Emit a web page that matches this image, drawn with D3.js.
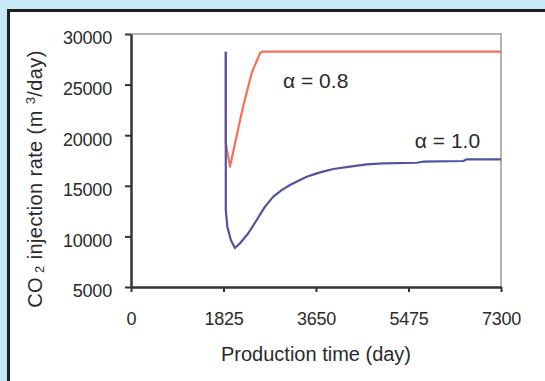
<!DOCTYPE html>
<html><head><meta charset="utf-8">
<script src="https://cdn.jsdelivr.net/npm/d3@7"></script>
<style>
html,body{margin:0;padding:0;background:#c6e8f7;}
svg{display:block;}
text{font-family:"Liberation Sans",Arial,sans-serif;fill:#2a2a2a;}
</style></head>
<body>
<svg id="chart" width="545" height="381"></svg>
<script>
// Data
const xTicks = [0, 1825, 3650, 5475, 7300];
const yTicks = [5000, 10000, 15000, 20000, 25000, 30000];

const alpha10Time  = [1870, 1870, 1870, 1900, 1970, 2050, 2151, 2314, 2480, 2644, 2808, 2980, 3137, 3334, 3467, 3664, 3788, 3992, 4321, 4650, 4978, 5637, 5761, 6556, 6623, 7300];
const alpha10Rate  = [28250, 25290, 12610, 10960, 9640, 8850, 9320, 10310, 11620, 12940, 13930, 14600, 15080, 15570, 15900, 16230, 16400, 16660, 16890, 17120, 17220, 17280, 17380, 17450, 17620, 17620];

const alpha08Time  = [1870, 1870, 1953, 2080, 2210, 2381, 2545, 2585, 7300];
const alpha08Rate  = [28250, 19230, 16890, 19850, 22820, 26150, 28100, 28250, 28250];

const seriesLabels = ["\u03B1 = 0.8", "\u03B1 = 1.0"];
const labelPos = [[3000, 24660], [5600, 18740]];

const svg = d3.select("#chart");

// white frame with dark border
svg.append("rect").attr("x", 8.5).attr("y", 10.5).attr("width", 560).attr("height", 400)
  .attr("fill", "#fff").attr("stroke", "#1e1e1e").attr("stroke-width", 3);

const L = 131, R = 501, T = 34, B = 287;
const x = d3.scaleLinear().domain([0, 7300]).range([L, R]);
const y = d3.scaleLinear().domain([5000, 30000]).range([B, T]);

// plot area box (top & right light gray)
svg.append("path").attr("d", `M${L},${T}H${R}V${B}`).attr("fill", "none")
  .attr("stroke", "#b3b3b3").attr("stroke-width", 2);

// data lines
const line = d3.line().x(d => x(d[0])).y(d => y(d[1]));
const red = alpha08Time.map((t, i) => [t, alpha08Rate[i]]);
const blue = alpha10Time.map((t, i) => [t, alpha10Rate[i]]);
svg.append("path").datum(red).attr("d", line).attr("fill", "none")
  .attr("stroke", "#f4715a").attr("stroke-width", 2.2).attr("stroke-linejoin", "round");
svg.append("path").datum(blue).attr("d", line).attr("fill", "none")
  .attr("stroke", "#5252a0").attr("stroke-width", 2.2).attr("stroke-linejoin", "round");

// axes
const xAxis = d3.axisBottom(x).tickValues(xTicks).tickSize(5).tickSizeOuter(0).tickPadding(20).tickFormat(d3.format("d"));
const yAxis = d3.axisLeft(y).tickValues(yTicks).tickSize(6).tickSizeOuter(0).tickPadding(13).tickFormat(d3.format("d"));

const gx = svg.append("g").attr("transform", `translate(0,${B})`).call(xAxis);
const gy = svg.append("g").attr("transform", `translate(${L},0)`).call(yAxis);
[gx, gy].forEach(g => {
  g.select(".domain").attr("stroke", "#333").attr("stroke-width", 2.5);
  g.selectAll(".tick line").attr("stroke", "#333").attr("stroke-width", 2);
  g.selectAll(".tick text").attr("font-family", "Liberation Sans, Arial, sans-serif")
    .attr("font-size", 18).attr("fill", "#2a2a2a").attr("letter-spacing", -0.2);
});
gy.selectAll(".tick text").attr("dy", "0.55em");

// series labels
svg.selectAll("text.lbl").data(seriesLabels).enter().append("text")
  .attr("class", "lbl")
  .attr("x", (d, i) => x(labelPos[i][0])).attr("y", (d, i) => y(labelPos[i][1]))
  .attr("font-size", 21).attr("letter-spacing", 0).text(d => d);

// axis titles
svg.append("text").attr("x", (L + R) / 2).attr("y", 361).attr("text-anchor", "middle")
  .attr("font-size", 20).attr("letter-spacing", 0).text("Production time (day)");

const yt = svg.append("text").attr("transform", "translate(42,179) rotate(-90)")
  .attr("text-anchor", "middle").attr("font-size", 20).attr("letter-spacing", 0.4);
yt.append("tspan").text("CO");
yt.append("tspan").attr("font-size", 13).attr("dy", 2).text(" 2");
yt.append("tspan").attr("dy", -2).text(" injection rate (m ");
yt.append("tspan").attr("font-size", 13).attr("dy", -7).text("3");
yt.append("tspan").attr("dy", 7).text("/day)");
</script>
</body></html>
